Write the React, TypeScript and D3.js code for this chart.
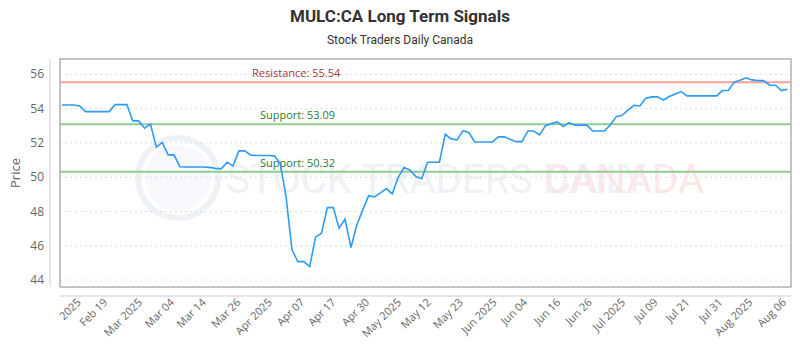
import React from "react";
import { scaleLinear, line } from "d3";

// daily closes
const prices = [
  54.22, 54.22, 54.22, 54.16, 53.83, 53.83, 53.83, 53.83, 53.83, 54.24,
  54.24, 54.24, 53.29, 53.29, 52.86, 53.11, 51.76, 52.03, 51.31, 51.31,
  50.61, 50.6, 50.6, 50.6, 50.6, 50.58, 50.52, 50.49, 50.88, 50.66,
  51.54, 51.54, 51.29, 51.27, 51.27, 51.27, 51.25, 50.82, 48.87, 45.77,
  45.08, 45.08, 44.79, 46.51, 46.74, 48.23, 48.23, 47.03, 47.56, 45.9,
  47.22, 48.1, 48.93, 48.86, 49.09, 49.34, 49.03, 49.98, 50.57, 50.43,
  50.04, 49.92, 50.88, 50.88, 50.88, 52.51, 52.24, 52.18, 52.72, 52.61,
  52.06, 52.06, 52.06, 52.06, 52.36, 52.36, 52.22, 52.08, 52.08, 52.7,
  52.7, 52.47, 53.01, 53.13, 53.23, 52.96, 53.19, 53.04, 53.04, 53.04,
  52.7, 52.7, 52.7, 53.06, 53.54, 53.62, 53.93, 54.2, 54.16, 54.61,
  54.69, 54.69, 54.51, 54.71, 54.86, 55.0, 54.75, 54.75, 54.75, 54.75,
  54.75, 54.75, 55.06, 55.06, 55.55, 55.66, 55.8, 55.68, 55.64, 55.64,
  55.37, 55.37, 55.06, 55.14,
];

const tickLabels = [
  "2025", "Feb 19", "Mar 2025", "Mar 04", "Mar 14", "Mar 26", "Apr 2025",
  "Apr 07", "Apr 17", "Apr 30", "May 2025", "May 12", "May 23", "Jun 2025",
  "Jun 04", "Jun 16", "Jun 26", "Jul 2025", "Jul 09", "Jul 21", "Jul 31",
  "Aug 2025", "Aug 06",
];
// where each label sits along the series (point index)
const tickAt = [
  3, 7.5, 13.4, 18.8, 24.2, 30.1, 35.4, 40.9, 46.2, 51.9, 57.3, 62.35, 67.8,
  73.5, 78.7, 84.3, 89.65, 95.3, 100.8, 106.2, 111.8, 116.9, 122.6,
];

const yTicks = [44, 46, 48, 50, 52, 54, 56];

const levels = [
  { name: "Resistance", value: 55.54 },
  { name: "Support", value: 53.09 },
  { name: "Support", value: 50.32 },
];

export default function App() {
  const W = 800;
  const H = 350;
  const plot = { left: 60, right: 791, top: 59, bottom: 287 };

  const x = scaleLinear().domain([0, prices.length - 1]).range([62, 787.3]);
  const y = scaleLinear().domain([43.6, 56.9]).range([plot.bottom, plot.top]);

  const path = line<number>()
    .x((_, i) => x(i))
    .y((d) => y(d))(prices);

  const font = "'Open Sans', sans-serif";

  return (
    <svg
      width={W}
      height={H}
      style={{ position: "absolute", left: 0, top: 0, background: "#fff" }}
    >
      <text
        x={400}
        y={22}
        textAnchor="middle"
        fontFamily="'Liberation Sans Narrow', Roboto, sans-serif"
        fontWeight="bold"
        fontSize={17}
        fill="#333"
      >
        MULC:CA Long Term Signals
      </text>
      <text
        x={400}
        y={44}
        textAnchor="middle"
        fontFamily="'Liberation Sans Narrow', Roboto, sans-serif"
        fontSize={12}
        fill="#333"
      >
        Stock Traders Daily Canada
      </text>

      {/* watermark */}
      <g opacity={0.5}>
        <circle cx={178} cy={178} r={40} fill="none" stroke="#dfe6f0" strokeWidth={6} />
        <circle cx={178} cy={178} r={33} fill="#eef2f8" />
        <text
          x={226}
          y={193}
          fontFamily="'Liberation Sans Narrow', Roboto, sans-serif"
          fontSize={40}
          fill="#dfe6f0"
        >
          STOCK TRADERS DAILY
        </text>
        <text
          x={545}
          y={193}
          fontFamily="'Liberation Sans Narrow', Roboto, sans-serif"
          fontSize={40}
          fill="#f6d2d2"
        >
          CANADA
        </text>
      </g>

      {/* grid */}
      {yTicks.map((t) => (
        <line
          key={t}
          x1={plot.left}
          x2={plot.right}
          y1={y(t)}
          y2={y(t)}
          stroke="#ddd"
          strokeDasharray="2,3"
        />
      ))}

      {/* plot frame */}
      <rect
        x={plot.left}
        y={plot.top}
        width={plot.right - plot.left}
        height={plot.bottom - plot.top}
        fill="none"
        stroke="#888"
      />

      {/* axis lines */}
      <line x1={50} x2={50} y1={plot.top} y2={plot.bottom} stroke="#ccc" />
      <line x1={plot.left} x2={plot.right} y1={296} y2={296} stroke="#ccc" />

      {/* levels */}
      {levels.map((l, i) => (
        <g key={i}>
          <line
            x1={plot.left}
            x2={plot.right}
            y1={y(l.value)}
            y2={y(l.value)}
            stroke={l.name === "Resistance" ? "#f4a09a" : "#93cc93"}
            strokeWidth={2}
          />
          <text
            x={l.name === "Resistance" ? 252 : 260}
            y={y(l.value) - 5}
            fontFamily={font}
            fontSize={11}
            fill={l.name === "Resistance" ? "#a33a33" : "#2e7d32"}
          >
            {`${l.name}: ${l.value.toFixed(2)}`}
          </text>
        </g>
      ))}

      <path d={path ?? ""} fill="none" stroke="#2e9bf5" strokeWidth={1.6} />

      {/* y axis */}
      {yTicks.map((t) => (
        <text
          key={t}
          x={44}
          y={y(t) + 4}
          textAnchor="end"
          fontFamily={font}
          fontSize={12}
          fill="#666"
        >
          {t}
        </text>
      ))}
      <text
        transform={`translate(20,${(plot.top + plot.bottom) / 2}) rotate(-90)`}
        textAnchor="middle"
        fontFamily={font}
        fontSize={13}
        fill="#666"
      >
        Price
      </text>

      {/* x axis */}
      {tickLabels.map((lab, i) => (
        <text
          key={lab}
          transform={`translate(${x(tickAt[i]) + 2},${303}) rotate(-45)`}
          textAnchor="end"
          fontFamily={font}
          fontSize={11}
          fill="#666"
        >
          {lab}
        </text>
      ))}
    </svg>
  );
}
